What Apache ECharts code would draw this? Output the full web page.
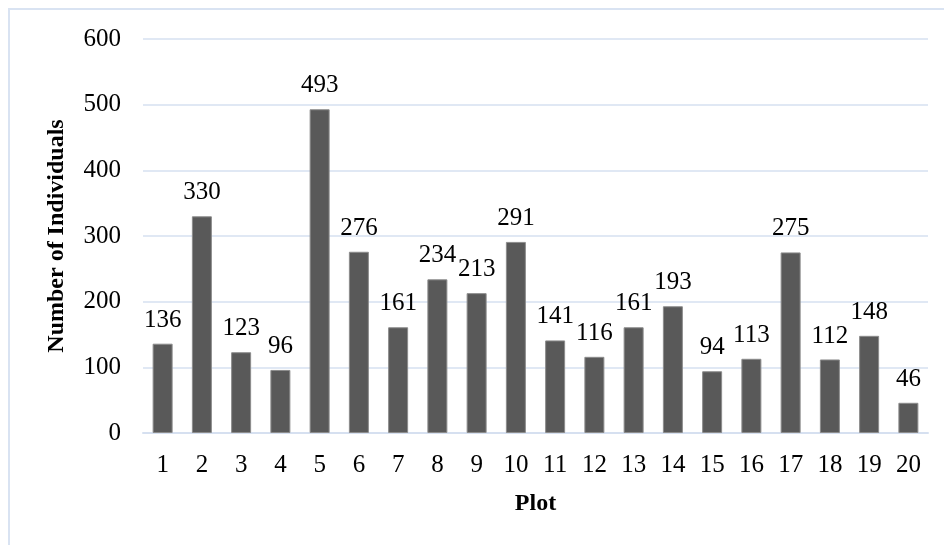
<!DOCTYPE html>
<html>
<head>
<meta charset="utf-8">
<script src="https://cdn.jsdelivr.net/npm/echarts@6/dist/echarts.min.js"></script>
<style>html,body{margin:0;padding:0;background:#fff;}#c{width:944px;height:545px;}</style>
</head>
<body>
<div id="c"></div>
<script>
const categories = ['1','2','3','4','5','6','7','8','9','10','11','12','13','14','15','16','17','18','19','20'];
const individuals = [136,330,123,96,493,276,161,234,213,291,141,116,161,193,94,113,275,112,148,46];
const yTicks = [0,100,200,300,400,500,600];

const chart = echarts.init(document.getElementById('c'), null, {renderer:'canvas'});
const font = '"Liberation Serif", "Times New Roman", serif';
chart.setOption({
  animation: false,
  backgroundColor: '#fff',
  graphic: [{
    type: 'rect', silent: true,
    shape: {x: 9, y: 9, width: 1000, height: 600},
    style: {fill: 'none', stroke: '#d9e3f2', lineWidth: 2}
  }],
  grid: {left: 143, right: 16, top: 39, bottom: 112, containLabel: false},
  xAxis: {
    type: 'category',
    data: categories,
    name: 'Plot',
    nameLocation: 'middle',
    nameGap: 59,
    nameTextStyle: {fontFamily: font, fontSize: 24, fontWeight: 'bold', color: '#000'},
    axisLine: {show: true, lineStyle: {color: '#d6e0f0', width: 2}},
    axisTick: {show: false},
    axisLabel: {fontFamily: font, fontSize: 25, color: '#000', margin: 20}
  },
  yAxis: {
    type: 'value',
    min: yTicks[0], max: yTicks[yTicks.length-1], interval: 100,
    name: 'Number of Individuals',
    nameLocation: 'middle',
    nameGap: 74,
    nameTextStyle: {fontFamily: font, fontSize: 24, fontWeight: 'bold', color: '#000'},
    axisLine: {show: false},
    axisTick: {show: false},
    axisLabel: {fontFamily: font, fontSize: 25, color: '#000', margin: 22},
    splitLine: {lineStyle: {color: '#d6e0f0', width: 1.5}}
  },
  series: [{
    type: 'bar',
    data: individuals,
    barWidth: 20,
    itemStyle: {color: '#595959', borderColor: '#8c8c8c', borderWidth: 1},
    label: {show: true, position: 'top', distance: 11, fontFamily: font, fontSize: 25, color: '#000'}
  }]
});
</script>
</body>
</html>
